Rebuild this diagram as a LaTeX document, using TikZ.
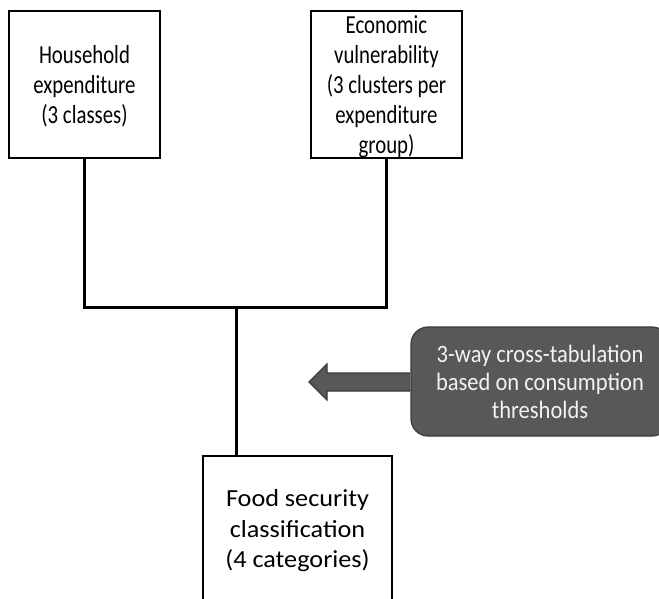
\documentclass[tikz,border=0pt]{standalone}
\usepackage{fontspec}
\setmainfont{Carlito}[FakeStretch=0.8]
\newfontfamily\widefont{Carlito}[FakeStretch=1.07]
\newfontfamily\midfont{Carlito}[FakeStretch=0.9]
\usetikzlibrary{positioning}
\definecolor{boxgray}{HTML}{585858}
\definecolor{edgegray}{HTML}{3A3A3A}
\definecolor{lighttext}{HTML}{F2F2F2}
\tikzset{>=latex}
\tikzset{every text node part/.style={align=center}}
\tikzset{box/.style={draw, line width=1.2pt, inner sep=0pt, font=\fontsize{26}{30}\selectfont}}
\tikzset{link/.style={line width=3pt}}

\begin{document}
\begin{tikzpicture}[x=1pt, y=-1pt]
\clip (0,0) rectangle (659,599);

% Input boxes
\node[box, text depth=0pt, minimum width=151, minimum height=147] (household) at (84.5,84.5)
	{Household\\expenditure\\(3 classes)};
\node[box, text depth=0pt, minimum width=151, minimum height=147] (vulnerability) at (386.5,84.5)
	{Economic\\vulnerability\\(3 clusters per\\expenditure\\group)};

% Result box
\node[box, minimum width=189, minimum height=150, font=\widefont\fontsize{24.5}{30.5}\selectfont] (foodsec) at (297.5,531)
	{Food security\\classification\\(4 categories)};

% Connectors
\coordinate (join) at (236,307);
\draw[link] (household.south) |- (join) -| (vulnerability.south);
\draw[link] (join) -- (join |- foodsec.north);

% Method
\node[box, rounded corners=17pt, fill=boxgray, draw=edgegray, text=lighttext,
	font=\midfont\fontsize{25}{28}\selectfont,
	minimum width=258, minimum height=109] (crosstab) at (540,381.5)
	{3-way cross-tabulation\\based on consumption\\thresholds};
\coordinate (tip) at (309,382);
\filldraw[fill=boxgray, draw=edgegray, line width=1.2pt]
	(crosstab.west |- 0,373) -- (327,373) -- (327,364) -- (tip)
	-- (327,400) -- (327,391) -- (crosstab.west |- 0,391);

\end{tikzpicture}
\end{document}
